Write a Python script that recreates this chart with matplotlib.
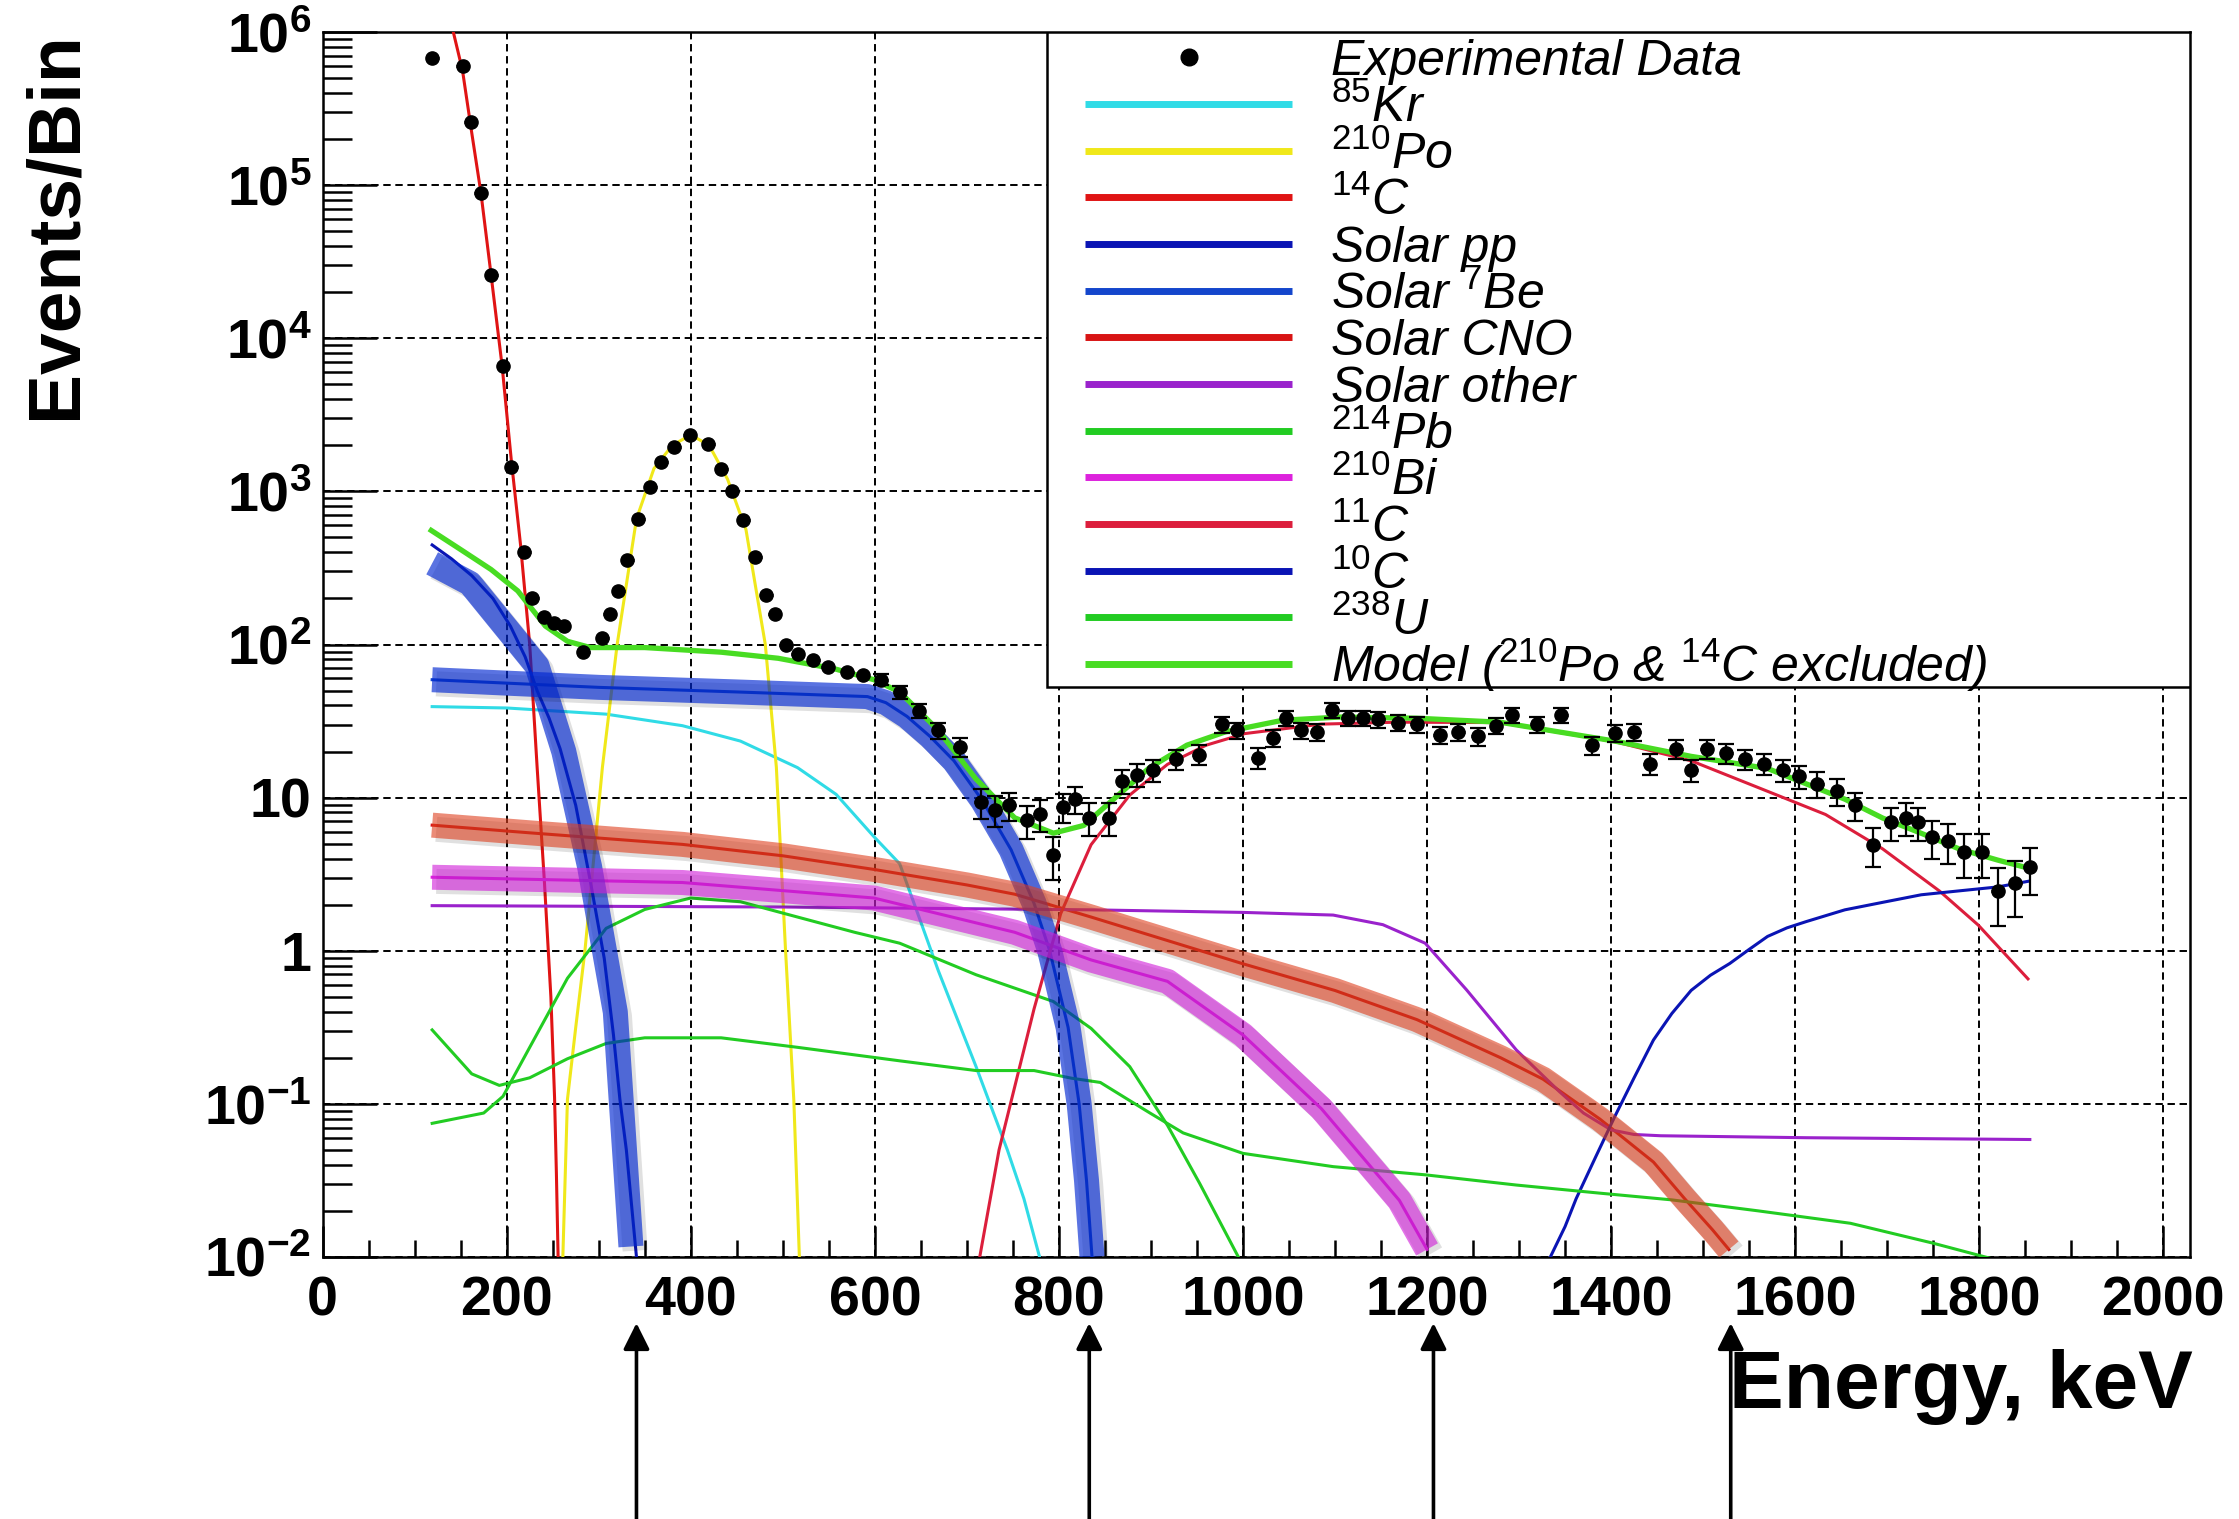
import numpy as np
import matplotlib
matplotlib.use("Agg")
import matplotlib.pyplot as plt
from matplotlib import patheffects
from matplotlib.patches import Rectangle
from matplotlib.ticker import FixedLocator, LogLocator, MultipleLocator, NullFormatter

# measured spectrum (keV, events/bin, error)
data_E = [119, 152, 161, 172, 183, 196, 205, 219, 228, 240, 251, 262, 283, 304, 312, 321, 331, 343,
          356, 368, 382, 399, 419, 433, 445, 457, 470, 482, 491, 503, 516, 533, 549, 570, 587,
          607, 627, 648, 669, 692, 715, 731, 746, 765, 779, 794, 804, 818, 833, 854, 869, 885, 902,
          927, 952, 977, 993, 1016, 1033, 1047, 1063, 1080, 1097, 1114, 1130, 1147, 1168, 1189, 1214,
          1234, 1255, 1275, 1292, 1319, 1346, 1379, 1404, 1425, 1442, 1471, 1487, 1504, 1525, 1545,
          1566, 1587, 1604, 1624, 1645, 1665, 1685, 1704, 1720, 1733, 1749, 1766, 1783, 1803, 1820,
          1839, 1855]
data_val = [6.8e5, 6.0e5, 2.6e5, 8.9e4, 2.6e4, 6.6e3, 1.45e3, 400, 200, 151, 138, 132, 89, 110, 158,
            224, 355, 661, 1070, 1550, 1950, 2340, 2040, 1410, 1000, 646, 372, 209, 158, 100, 87, 79,
            71, 66, 63,
            59, 49, 37, 27.5, 21.4, 9.3, 8.3, 8.9, 7.1, 7.8, 4.2, 8.7, 9.8, 7.4, 7.4, 12.9, 14.1,
            15.1, 17.8, 19.1, 30.2, 27.5, 18.2, 24.5, 33.1, 27.5, 26.9, 37.2, 33.1, 33.1, 32.4, 30.9,
            30.2, 25.7, 26.9, 25.1, 29.5, 34.7, 30.2, 34.7, 21.9, 26.3, 26.9, 16.6, 20.9, 15.1, 20.9,
            19.5, 17.8, 16.6, 15.1, 13.8, 12.3, 11.0, 8.9, 4.9, 6.9, 7.4, 6.9, 5.5, 5.2, 4.4, 4.4,
            2.45, 2.75, 3.5]
data_err = [0.0] * 35 + [
    5.0, 4.6, 4.0, 3.4, 3.0, 2.0, 1.9, 1.9, 1.7, 1.8, 1.3, 1.9, 2.0, 1.8, 1.8, 2.3, 2.4, 2.5, 2.7,
    2.8, 3.6, 3.4, 2.8, 3.2, 3.7, 3.4, 3.4, 4.0, 3.7, 3.7, 3.7, 3.6, 3.6, 3.3, 3.4, 3.3, 3.5, 3.8,
    3.6, 3.8, 3.0, 3.3, 3.4, 2.6, 3.0, 2.5, 3.0, 2.9, 2.7, 2.6, 2.5, 2.4, 2.3, 2.2, 1.9, 1.4, 1.7,
    1.8, 1.7, 1.5, 1.5, 1.4, 1.4, 1.0, 1.1, 1.2]
bin_half = 7

# fit components
kr85_E = [119, 200, 308, 391, 454, 516, 558, 599, 627, 648, 669, 710, 744, 762, 779]
kr85_val = [39.3, 38.5, 35.1, 29.5, 23.4, 15.7, 10.5, 5.56, 3.70, 1.66, 0.74, 0.175, 0.050, 0.024, 0.010]

po210_E = [261, 266, 275, 285, 304, 320, 341, 360, 380, 400, 420, 440, 460, 481, 493, 503, 512, 518]
po210_val = [0.01, 0.107, 0.316, 1.0, 15.8, 100, 661, 1410, 2000, 2340, 2000, 1200, 562, 100, 15.8,
             1.0, 0.105, 0.01]

c14_E = [135, 142, 152, 162, 172, 183, 195, 205, 215, 225, 233, 241, 248, 252, 254, 256]
c14_val = [2.0e6, 1.0e6, 5.6e5, 2.2e5, 8.9e4, 2.6e4, 6.6e3, 1.6e3, 450, 100, 16, 2.8, 0.5, 0.11,
           0.035, 0.009]

pp_E = [119, 140, 162, 185, 204, 220, 233, 246, 258, 275, 291, 306, 316, 323, 330, 341]
pp_val = [447, 363, 282, 200, 132, 83.2, 50.1, 33.1, 20.9, 8.91, 2.82, 0.891, 0.282, 0.107, 0.050, 0.010]
pp_band_E = [119, 160, 233, 262, 290, 318, 335]
pp_band_val = [339, 251, 72.4, 20.0, 3.55, 0.398, 0.0117]

be7_E = [119, 300, 450, 592, 612, 635, 660, 686, 717, 748, 773, 790, 810, 822, 830, 836]
be7_val = [58.9, 52.5, 49.0, 45.7, 41.7, 33.9, 25.1, 17.4, 9.55, 4.57, 2.04, 1.0, 0.316, 0.1, 0.0316, 0.01]

cno_E = [119, 225, 391, 500, 600, 700, 752, 835, 1000, 1100, 1189, 1280, 1326, 1388, 1446, 1480,
         1510, 1528]
cno_val = [6.61, 5.89, 4.95, 4.17, 3.39, 2.69, 2.34, 1.66, 0.822, 0.550, 0.355, 0.200, 0.145,
           0.0794, 0.0417, 0.0240, 0.0151, 0.0112]

other_E = [119, 500, 835, 1000, 1098, 1152, 1198, 1243, 1297, 1344, 1370, 1400, 1425, 1454, 1612, 1855]
other_val = [1.97, 1.93, 1.85, 1.78, 1.71, 1.48, 1.12, 0.555, 0.225, 0.120, 0.0871, 0.0676, 0.0631,
             0.0619, 0.0601, 0.0585]

pb214_E = [119, 175, 196, 225, 266, 308, 350, 400, 454, 516, 578, 627, 710, 794, 835, 877, 918, 953, 995]
pb214_val = [0.0746, 0.0871, 0.112, 0.234, 0.661, 1.40, 1.86, 2.21, 2.09, 1.66, 1.32, 1.12, 0.697,
             0.466, 0.311, 0.175, 0.0724, 0.0302, 0.0100]

bi210_E = [119, 391, 599, 752, 835, 918, 1000, 1085, 1170, 1200]
bi210_val = [3.02, 2.79, 2.21, 1.32, 0.871, 0.631, 0.282, 0.0933, 0.0234, 0.0112]

c11_E = [714, 735, 773, 802, 835, 877, 918, 960, 1002, 1085, 1168, 1279, 1404, 1487, 1570, 1633,
         1695, 1757, 1799, 1853]
c11_val = [0.01, 0.0501, 0.417, 1.75, 4.93, 10.4, 16.5, 22.0, 26.2, 30.2, 31.1, 30.9, 23.2, 17.4,
           11.0, 7.76, 4.63, 2.45, 1.47, 0.655]

c10_E = [1334, 1350, 1362, 1383, 1404, 1425, 1446, 1466, 1487, 1508, 1529, 1550, 1570, 1591, 1612,
         1654, 1695, 1737, 1778, 1820, 1853]
c10_val = [0.01, 0.0158, 0.024, 0.0447, 0.0826, 0.148, 0.261, 0.389, 0.551, 0.692, 0.826, 1.02,
           1.24, 1.41, 1.55, 1.85, 2.07, 2.32, 2.46, 2.61, 2.84]

u238_E = [119, 162, 192, 225, 266, 308, 350, 433, 516, 627, 710, 773, 814, 845, 877, 899, 935,
          1000, 1098, 1198, 1297, 1388, 1466, 1560, 1660, 1750, 1812]
u238_val = [0.304, 0.157, 0.132, 0.148, 0.197, 0.248, 0.270, 0.270, 0.234, 0.191, 0.165, 0.165,
            0.147, 0.138, 0.105, 0.0871, 0.0646, 0.0475, 0.0389, 0.0344, 0.0295, 0.0261, 0.0236,
            0.0200, 0.0166, 0.0123, 0.0098]

model_E = [118, 150, 183, 212, 242, 266, 291, 350, 433, 495, 557, 599, 627, 669, 710, 752, 794, 827,
           860, 898, 939, 981, 1043, 1105, 1189, 1279, 1404, 1487, 1570, 1654, 1695, 1737, 1778,
           1820, 1853]
model_val = [556, 417, 309, 224, 132, 105, 95.5, 95.5, 89.1, 81.3, 69.2, 58.9, 49.0, 27.5, 13.2,
             7.38, 5.86, 6.58, 9.84, 15.6, 22.0, 26.9, 32.0, 33.6, 33.0, 31.1, 23.4, 18.6, 15.5,
             9.77, 7.36, 5.85, 4.63, 3.91, 3.47]

arrow_E = [341, 833, 1207, 1530]

legend_labels = ['Experimental Data', r'$^{85}$Kr', r'$^{210}$Po', r'$^{14}$C', 'Solar pp',
                 r'Solar $^{7}$Be', 'Solar CNO', 'Solar other', r'$^{214}$Pb', r'$^{210}$Bi',
                 r'$^{11}$C', r'$^{10}$C', r'$^{238}$U', r'Model ($^{210}$Po & $^{14}$C excluded)']

colors = {
    'kr85': '#30dbe6', 'po210': '#f0e81a', 'c14': '#e01414', 'pp': '#0a14b4', 'be7': '#1446cc',
    'cno': '#d81414', 'other': '#9a22cc', 'pb214': '#22cc22', 'bi210': '#dd22dd', 'c11': '#dc1e3c',
    'c10': '#0a14b4', 'u238': '#22cc22', 'model': '#48dc22',
}

plt.rcParams['font.family'] = ['Liberation Sans', 'DejaVu Sans']
plt.rcParams['mathtext.fontset'] = 'custom'
plt.rcParams['mathtext.rm'] = 'Liberation Sans'
plt.rcParams['mathtext.it'] = 'Liberation Sans:italic'
plt.rcParams['mathtext.bf'] = 'Liberation Sans:bold'
plt.rcParams['mathtext.default'] = 'it'

fig = plt.figure(figsize=(22.39, 15.19), dpi=100)
ax = fig.add_axes([0.1441, 0.1725, 0.8340, 0.8064])
ax.set_yscale('log')

thin = 2.2
components = [
    (kr85_E, kr85_val, 'kr85'), (po210_E, po210_val, 'po210'), (c14_E, c14_val, 'c14'),
    (pp_E, pp_val, 'pp'), (be7_E, be7_val, 'be7'), (cno_E, cno_val, 'cno'),
    (other_E, other_val, 'other'), (pb214_E, pb214_val, 'pb214'), (bi210_E, bi210_val, 'bi210'),
    (c11_E, c11_val, 'c11'), (c10_E, c10_val, 'c10'), (u238_E, u238_val, 'u238'),
]
for E, v, key in components:
    ax.plot(E, v, color=colors[key], lw=thin, zorder=3)

# highlighted neutrino components
shadow = [patheffects.SimpleLineShadow(offset=(3, -3), alpha=0.12), patheffects.Normal()]
bands = [
    (pp_band_E, pp_band_val, '#0128d1', 0.65),
    (be7_E, be7_val, '#0128d1', 0.65),
    (cno_E, cno_val, '#de3f1e', 0.6),
    (bi210_E, bi210_val, '#d120d9', 0.62),
]
for E, v, c, a in bands:
    ax.plot(E, v, color=c, alpha=a, lw=18, solid_capstyle='butt', zorder=4, path_effects=shadow)

ax.plot(model_E, model_val, color=colors['model'], lw=3.8, zorder=5)

E = np.array(data_E)
v = np.array(data_val)
err = np.array(data_err)
ax.errorbar(E, v, xerr=bin_half, fmt='none', ecolor='black', elinewidth=2.2, capsize=0, zorder=6)
has_err = err > 0
ax.errorbar(E[has_err], v[has_err], yerr=err[has_err], fmt='none', ecolor='black',
            elinewidth=1.6, capsize=5.5, capthick=1.6, zorder=6)
ax.plot(E, v, 'o', color='black', ms=9.5, zorder=7)

ax.set_xlim(0, 2029)
ax.set_ylim(1e-2, 1e6)

ax.xaxis.set_major_locator(FixedLocator(np.arange(0, 2001, 200)))
ax.xaxis.set_minor_locator(MultipleLocator(50))
ax.yaxis.set_major_locator(FixedLocator(10.0 ** np.arange(-2, 7)))
ax.yaxis.set_minor_locator(LogLocator(base=10, subs=np.arange(2, 10)))
ax.yaxis.set_minor_formatter(NullFormatter())
ax.set_yticklabels([r'$\mathbf{10^{-2}}$', r'$\mathbf{10^{-1}}$', '1', '10', r'$\mathbf{10^{2}}$',
                    r'$\mathbf{10^{3}}$', r'$\mathbf{10^{4}}$', r'$\mathbf{10^{5}}$',
                    r'$\mathbf{10^{6}}$'])
ax.set_xticklabels([str(t) for t in range(0, 2001, 200)])

ax.tick_params(axis='both', which='both', direction='in', width=1.8, top=False, right=False)
ax.tick_params(axis='y', which='major', length=39, pad=8, labelsize=40)
ax.tick_params(axis='y', which='minor', length=21)
ax.tick_params(axis='x', which='major', length=22, pad=13, labelsize=40)
ax.tick_params(axis='x', which='minor', length=12)
for lab in ax.get_xticklabels() + ax.get_yticklabels():
    lab.set_fontweight('bold')
for s in ax.spines.values():
    s.set_linewidth(1.8)

ax.grid(True, which='major', color='black', linestyle=(0, (3.8, 2.4)), linewidth=1.4)

# legend box in the upper right corner
ax.add_patch(Rectangle((0.3877, 0.4654), 0.6123, 0.5346, transform=ax.transAxes,
                       facecolor='white', edgecolor='black', lw=1.8, zorder=8))
legend_keys = [None, 'kr85', 'po210', 'c14', 'pp', 'be7', 'cno', 'other', 'pb214', 'bi210',
               'c11', 'c10', 'u238', 'model']
rows = np.linspace(0.9795, 0.4841, len(legend_labels))
for y, lab, key in zip(rows, legend_labels, legend_keys):
    if key is None:
        ax.plot([0.4637], [y], 'o', color='black', ms=12, transform=ax.transAxes, zorder=9)
    else:
        ax.plot([0.4082, 0.5191], [y, y], color=colors[key], lw=5, solid_capstyle='butt',
                transform=ax.transAxes, zorder=9)
    ax.text(0.5400, y - 0.0147, lab, transform=ax.transAxes, fontsize=36, style='italic',
            va='baseline', ha='left', zorder=10)

for e in arrow_E:
    ax.annotate('', xy=(e, 0.129), xycoords=('data', 'figure fraction'),
                xytext=(e, 0.0), textcoords=('data', 'figure fraction'),
                arrowprops=dict(arrowstyle='-|>,head_length=0.8,head_width=0.4', lw=2.6,
                                color='black', shrinkA=0, shrinkB=0, mutation_scale=20),
                annotation_clip=False)

fig.text(0.0249, 0.9796, 'Events/Bin', rotation=90, ha='center', va='top', fontsize=54,
         fontweight='bold')
fig.text(0.9795, 0.0731, 'Energy, keV', ha='right', va='baseline', fontsize=59, fontweight='bold')

fig.savefig('out.png', dpi=100)
